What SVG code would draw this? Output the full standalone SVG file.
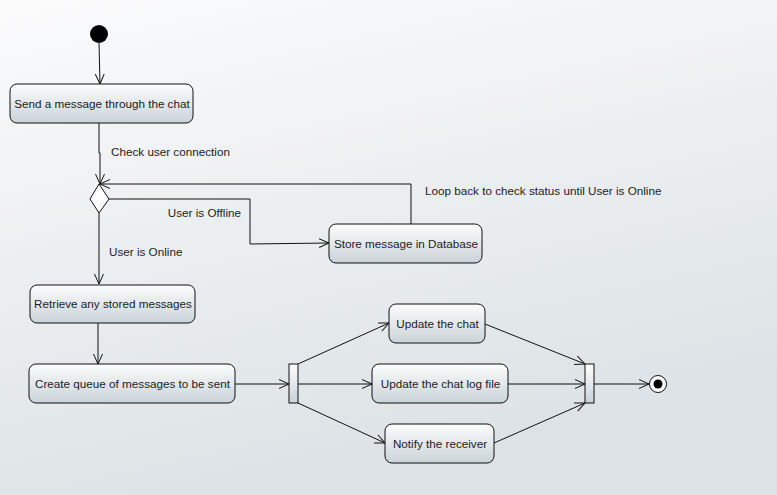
<svg xmlns="http://www.w3.org/2000/svg" width="777" height="495" viewBox="0 0 777 495">
<defs>
<linearGradient id="bg" x1="0" y1="0" x2="0.35" y2="1">
<stop offset="0" stop-color="#fbfbfc"/>
<stop offset="1" stop-color="#dce2e5"/>
</linearGradient>
<linearGradient id="nodefill" x1="0" y1="0" x2="0" y2="1">
<stop offset="0" stop-color="#fdfdfd"/>
<stop offset="1" stop-color="#c9d3d8"/>
</linearGradient>
<marker id="arr" markerWidth="12" markerHeight="12" refX="10" refY="5" orient="auto" markerUnits="userSpaceOnUse">
<path d="M0,0.5 L10,5 L0,9.5" fill="none" stroke="#111" stroke-width="1"/>
</marker>
<style>
.node{fill:url(#nodefill);stroke:#111;stroke-width:1}
.bar{fill:url(#nodefill);stroke:#111;stroke-width:1}
.lbl{font-family:"Liberation Sans",Arial,sans-serif;font-size:11.7px;fill:#1c1c24}
.c{text-anchor:middle}
.edge{fill:none;stroke:#111;stroke-width:1;marker-end:url(#arr)}
</style>
</defs>
<rect width="777" height="495" fill="url(#bg)"/>

<g id="connectors">
<path class="edge" d="M99,43 L100,84"/>
<path class="edge" d="M99,123 L99,153 L100,153 L100,184"/>
<path class="edge" d="M411,224 L411,184 L100,184"/>
<path class="edge" d="M109,199 L250,199 L250,244 L329,243"/>
<path class="edge" d="M99,213 L99,284"/>
<path class="edge" d="M98,323 L98,364"/>
<path class="edge" d="M235,384 L289,384"/>
<path class="edge" d="M298,364 L389,323"/>
<path class="edge" d="M298,384 L372,384"/>
<path class="edge" d="M298,403 L385,443"/>
<path class="edge" d="M485,324 L585,364"/>
<path class="edge" d="M508,384 L585,384"/>
<path class="edge" d="M494,443 L585,403"/>
<path class="edge" d="M594,384 L649,384"/>
<text class="lbl" x="111" y="156">Check user connection</text>
<text class="lbl" x="425" y="195">Loop back to check status until User is Online</text>
<text class="lbl" x="241" y="217" text-anchor="end">User is Offline</text>
<text class="lbl" x="109" y="256">User is Online</text>
</g>

<g id="start"><circle cx="99" cy="34" r="9" fill="#000"/></g>

<g id="send"><rect class="node" x="10" y="84" width="183" height="39" rx="7"/>
<text class="lbl c" x="102" y="108">Send a message through the chat</text></g>

<g id="decision"><polygon points="99,184 109,199 99,213 90,199" fill="#fff" stroke="#111" stroke-width="1"/></g>

<g id="store"><rect class="node" x="329" y="224" width="153" height="39" rx="7"/>
<text class="lbl c" x="406" y="248">Store message in Database</text></g>

<g id="retrieve"><rect class="node" x="30" y="285" width="165" height="38" rx="7"/>
<text class="lbl c" x="113" y="308">Retrieve any stored messages</text></g>

<g id="queue"><rect class="node" x="29" y="364" width="206" height="39" rx="7"/>
<text class="lbl c" x="132.5" y="388">Create queue of messages to be sent</text></g>

<g id="fork"><rect class="bar" x="289" y="364" width="9" height="39"/></g>

<g id="updatechat"><rect class="node" x="389" y="304" width="96" height="39" rx="7"/>
<text class="lbl c" x="437.5" y="328">Update the chat</text></g>

<g id="updatelog"><rect class="node" x="372" y="364" width="136" height="39" rx="7"/>
<text class="lbl c" x="440.5" y="388">Update the chat log file</text></g>

<g id="notify"><rect class="node" x="385" y="424" width="109" height="39" rx="7"/>
<text class="lbl c" x="440" y="448">Notify the receiver</text></g>

<g id="join"><rect class="bar" x="585" y="364" width="9" height="39"/></g>

<g id="final"><circle cx="658" cy="384" r="8.5" fill="#fff" stroke="#111" stroke-width="1"/>
<circle cx="658" cy="384" r="4.5" fill="#000"/></g>
</svg>
